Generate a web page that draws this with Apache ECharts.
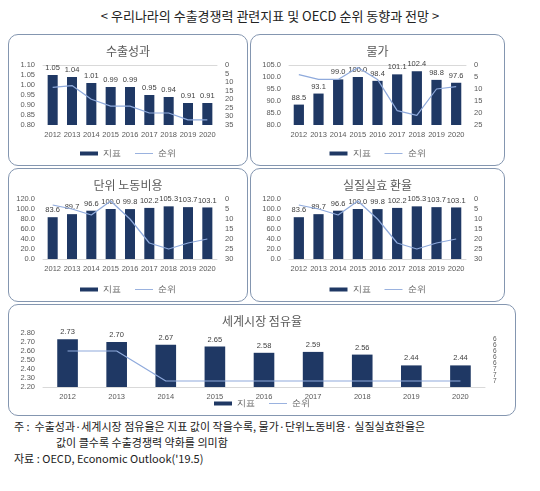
<!DOCTYPE html>
<html><head><meta charset="utf-8">
<script src="https://cdn.jsdelivr.net/npm/echarts@6/dist/echarts.min.js"></script>
<style>
body{margin:0;background:#fff;font-family:"Noto Sans CJK KR",sans-serif;width:540px;height:491px;position:relative;overflow:hidden}
.box{position:absolute;border:1.5px solid #8496b0;border-radius:10px;box-sizing:border-box}
#title{position:absolute;top:6px;left:0;width:540px;text-align:center;font-size:13px;color:#222}
#note{position:absolute;left:14px;top:418px;font-size:11px;color:#222;line-height:16px}
</style></head><body>
<div id="title">&lt; 우리나라의 수출경쟁력 관련지표 및 OECD 순위 동향과 전망 &gt;</div>
<div id="c1" class="box" style="left:8px;top:34px;width:240px;height:132px"></div>
<div id="c2" class="box" style="left:250px;top:34px;width:255px;height:132px"></div>
<div id="c3" class="box" style="left:8px;top:168px;width:240px;height:134px"></div>
<div id="c4" class="box" style="left:250px;top:168px;width:255px;height:134px"></div>
<div id="c5" class="box" style="left:8px;top:304px;width:508px;height:112px"></div>
<div id="note">주 :&nbsp; 수출성과·세계시장 점유율은 지표 값이 작을수록, 물가·단위노동비용· 실질실효환율은<br>
<span style="padding-left:42px">값이 클수록 수출경쟁력 약화를 의미함</span><br>
자료 : OECD, Economic Outlook('19.5)</div>
<script>
var years = ['2012','2013','2014','2015','2016','2017','2018','2019','2020'];
var exportIdx = [1.05, 1.04, 1.01, 0.99, 0.99, 0.95, 0.94, 0.91, 0.91];
var exportRank = [13, 12, 20, 24, 24, 28, 28, 32, 32];
var priceIdx = [88.5, 93.1, 99.0, 100.0, 98.4, 101.1, 102.4, 98.8, 97.6];
var priceRank = [4, 6, 6, 1, 6, 19, 21, 10, 9];
var laborIdx = [83.6, 89.7, 96.6, 100.0, 99.8, 102.2, 105.3, 103.7, 103.1];
var laborRank = [3, 5, 8, 1, 10, 22, 25, 22, 20];
var reerIdx = [83.6, 89.7, 96.6, 100.0, 99.8, 102.2, 105.3, 103.7, 103.1];
var reerRank = [3, 5, 8, 1, 10, 22, 25, 22, 20];
var shareIdx = [2.73, 2.70, 2.67, 2.65, 2.58, 2.59, 2.56, 2.44, 2.44];
var shareRank = [6, 6, 7, 7, 7, 7, 7, 7, 7];

var txt = '#595959';
function make(id, title, idx, rank, y1, y2, dec, gridB, opt) {
  opt = opt || {};
  var c = echarts.init(document.getElementById(id));
  c.setOption({
    animation: false,
    title: {text: title, left: 'center', top: 5, textStyle: {fontSize: 12, fontWeight: 'normal', color: txt, fontFamily: 'Noto Sans CJK KR'}},
    legend: {bottom: 2, itemWidth: 18, itemHeight: 4, itemGap: 14, textStyle: {fontSize: 9, color: txt},
      data: [{name: '지표', icon: 'rect'}, {name: '순위', icon: 'path://M0,0H20V1H0Z'}]},
    grid: {left: opt.left || 34, right: opt.right || 30, top: opt.top || 30, bottom: gridB},
    xAxis: {type: 'category', data: years, axisTick: {show: false},
      axisLine: {lineStyle: {color: '#d9d9d9'}}, axisLabel: {fontSize: 7.5, color: txt, interval: 0, margin: 6}},
    yAxis: [
      {type: 'value', min: y1[0], max: y1[1], interval: y1[2], splitLine: {show: false},
       axisLabel: {fontSize: 7.5, color: txt, formatter: function (v) { return v.toFixed(dec); }}},
      {type: 'value', inverse: true, min: y2[0], max: y2[1], interval: y2[2], splitLine: {show: false},
       axisLabel: {fontSize: opt.rfs || 7.5, color: txt, formatter: function (v) { return Math.round(v); }}}
    ],
    series: [
      {name: '지표', type: 'bar', data: idx, barWidth: opt.bw || '52%', itemStyle: {color: '#1f3864'},
       label: {show: true, position: 'top', fontSize: 7.5, color: '#404040', distance: 3,
         formatter: function (p) { return p.value.toFixed(dec); }}},
      {name: '순위', type: 'line', yAxisIndex: 1, data: rank, symbol: 'none',
       lineStyle: {color: '#8faadc', width: 1.2}, itemStyle: {color: '#8faadc'}}
    ]
  });
}
make('c1', '수출성과', exportIdx, exportRank, [0.8, 1.1, 0.05], [0, 35, 5], 2, 40);
make('c2', '물가', priceIdx, priceRank, [80, 105, 5], [0, 25, 5], 1, 40, {left: 38, right: 38});
make('c3', '단위 노동비용', laborIdx, laborRank, [0, 120, 20], [0, 30, 5], 1, 42);
make('c4', '실질실효 환율', reerIdx, reerRank, [0, 120, 20], [0, 30, 5], 1, 42, {left: 38, right: 38});
make('c5', '세계시장 점유율', shareIdx, shareRank, [2.2, 2.8, 0.1], [5.4, 7.2, 0.2], 2, 28, {left: 34, right: 30, bw: '42%', top: 28, rfs: 6.5});
</script>
</body></html>
